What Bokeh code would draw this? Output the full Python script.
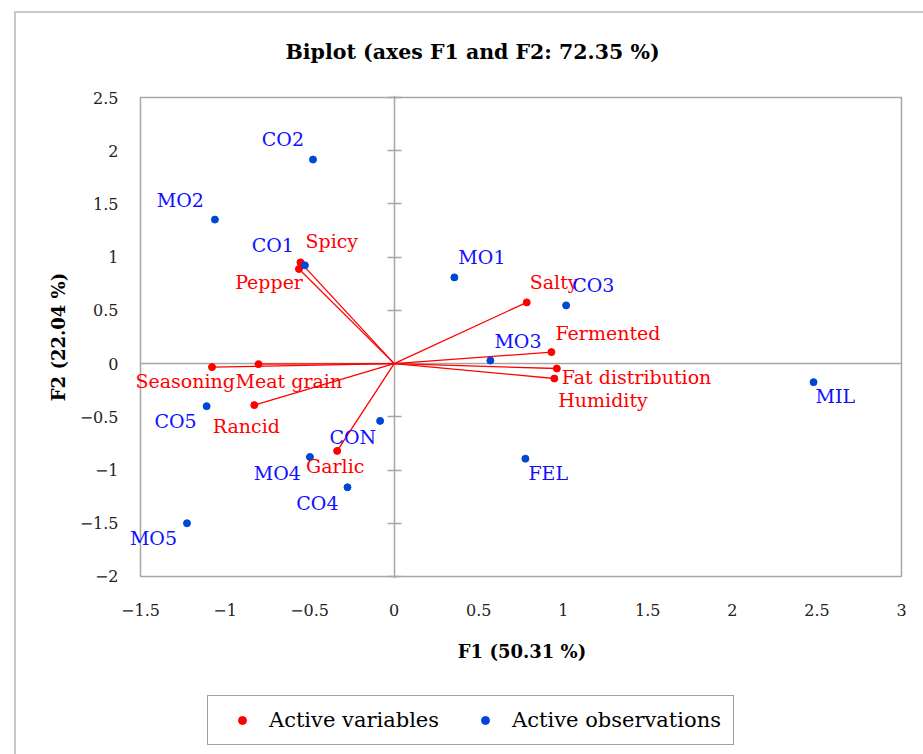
from bokeh.plotting import figure
from bokeh.layouts import column
from bokeh.models import (ColumnDataSource, LabelSet, LinearAxis, FixedTicker,
                          CustomJSTickFormatter, Legend, LegendItem, BoxAnnotation,
                          InlineStyleSheet)
from bokeh.core.properties import value
from bokeh.embed import file_html
from bokeh.resources import INLINE

# ---------------- data ----------------
var_names = ["Spicy", "Pepper", "Seasoning", "Meat grain", "Rancid", "Garlic",
             "Salty", "Fermented", "Fat distribution", "Humidity"]
var_f1 = [-0.554, -0.563, -1.077, -0.802, -0.827, -0.337, 0.784, 0.930, 0.962, 0.947]
var_f2 = [0.951, 0.889, -0.033, -0.005, -0.390, -0.820, 0.575, 0.108, -0.046, -0.140]

obs_names = ["CO1", "CO2", "CO3", "CO4", "CO5", "CON", "MO1", "MO2", "MO3",
             "MO4", "MO5", "MIL", "FEL"]
obs_f1 = [-0.528, -0.480, 1.017, -0.276, -1.109, -0.083, 0.356, -1.060, 0.569,
          -0.498, -1.225, 2.480, 0.776]
obs_f2 = [0.923, 1.917, 0.547, -1.162, -0.400, -0.538, 0.810, 1.353, 0.029,
          -0.877, -1.500, -0.174, -0.893]

x_ticks = [-1.5, -1, -0.5, 0, 0.5, 1, 1.5, 2, 2.5, 3]
y_ticks = [-2, -1.5, -1, -0.5, 0, 0.5, 1, 1.5, 2, 2.5]

title_text = "Biplot (axes F1 and F2: 72.35 %)"
x_title = "F1 (50.31 %)"
y_title = "F2 (22.04 %)"
legend_labels = ["Active variables", "Active observations"]

# ---------------- label placement (style) ----------------
var_align = ["left", "right", "right", "left", "center", "center",
             "left", "left", "left", "left"]
var_dx = [5, 4, 23, -23, -8, -2, 3, 4, 5, 4]
var_dy = [14, -20, -21, -24, -28, -22, 13, 12, -15, -28]

obs_align = ["right", "right", "left", "right", "right", "right", "left", "right",
             "left", "right", "right", "left", "left"]
obs_dx = [-11, -9, 6, -9, -10, -4, 4, -11, 4, -9, -10, 2, 3]
obs_dy = [13, 14, 13, -23, -22, -23.5, 13, 13, 13, -23, -22, -21, -21]

FONT = "DejaVu Serif"
RED = "#ff0000"
BLUE_PT = "#0047d6"
BLUE_TXT = "#1010ff"
GRAY = "#a6a6a6"
FRAME = "#c8c8c8"

# small extra room around the [-1.5, 3] x [-2, 2.5] box so labels are not clipped
PADL, PADR, PADY = 0.1005, 0.1124, 0.0188

p = figure(width=923, height=690,
           x_range=(x_ticks[0] - PADL, x_ticks[-1] + PADR),
           y_range=(y_ticks[0] - PADY, y_ticks[-1] + PADY),
           output_backend="svg", toolbar_location=None,
           min_border_left=123, min_border_right=3, min_border_top=95,
           min_border_bottom=112, x_axis_label=x_title, y_axis_label=y_title)

p.grid.visible = False
p.outline_line_color = None
p.background_fill_color = "white"
p.border_fill_color = "white"

# title
p.title.text = title_text
p.title.align = "left"
p.title.offset = 162
p.title.text_font = FONT
p.title.text_font_style = "bold"
p.title.text_font_size = "20.5px"
p.title.text_color = "black"
p.title.standoff = 64

fmt = CustomJSTickFormatter(code="return (tick < 0 ? '\u2212' : '') + Math.abs(tick).toString();")

for ax, ticks in ((p.xaxis[0], x_ticks), (p.yaxis[0], y_ticks)):
    ax.ticker = FixedTicker(ticks=ticks)
    ax.formatter = fmt
    ax.major_tick_in = 0
    ax.major_tick_out = 0
    ax.minor_tick_in = 0
    ax.minor_tick_out = 0
    ax.axis_line_color = None
    ax.major_label_text_font = FONT
    ax.major_label_text_font_size = "16px"
    ax.major_label_text_color = "#222222"
    ax.axis_label_text_font = FONT
    ax.axis_label_text_font_style = "bold"
    ax.axis_label_text_font_size = "18px"
    ax.axis_label_text_color = "black"
p.xaxis[0].major_label_standoff = 25
p.yaxis[0].major_label_standoff = 5
p.xaxis[0].axis_label_standoff = 22
p.yaxis[0].axis_label_standoff = 8

# plot box
p.add_layout(BoxAnnotation(left=x_ticks[0], right=x_ticks[-1], bottom=y_ticks[0],
                           top=y_ticks[-1], fill_alpha=0, line_color=GRAY,
                           line_alpha=1, line_width=1.5, level="underlay"))
# horizontal zero line
p.segment(x0=x_ticks[0], y0=0, x1=x_ticks[-1], y1=0, line_color=GRAY, line_width=1.5)
# vertical zero line with crossing ticks
zaxis = LinearAxis(fixed_location=0, ticker=FixedTicker(ticks=y_ticks),
                   major_tick_in=7, major_tick_out=7, minor_tick_in=0, minor_tick_out=0,
                   axis_line_color=GRAY, axis_line_width=1.5,
                   major_tick_line_color=GRAY, major_tick_line_width=1.5,
                   major_label_text_font_size="0px", major_label_text_color=None,
                   formatter=CustomJSTickFormatter(code="return '';"), level="underlay")
p.add_layout(zaxis, "left")

# data
vsrc = ColumnDataSource(dict(x=var_f1, y=var_f2, name=var_names, align=var_align,
                             dx=var_dx, dy=var_dy))
osrc = ColumnDataSource(dict(x=obs_f1, y=obs_f2, name=obs_names, align=obs_align,
                             dx=obs_dx, dy=obs_dy))

p.segment(x0=0, y0=0, x1="x", y1="y", source=vsrc, line_color=RED, line_width=1.3)
p.scatter("x", "y", source=vsrc, size=7, marker="circle",
          fill_color=RED, line_color=RED)
p.scatter("x", "y", source=osrc, size=7, marker="circle",
          fill_color=BLUE_PT, line_color=BLUE_PT)

for src, col in ((vsrc, RED), (osrc, BLUE_TXT)):
    p.add_layout(LabelSet(x="x", y="y", text="name", source=src,
                          x_offset="dx", y_offset="dy", text_align="align",
                          text_baseline="alphabetic", text_font=value(FONT),
                          text_font_size="19px", text_color=col))

css_top = (":host { position: relative; }"
           ":host::after { content: ''; position: absolute; left: 14px; top: 11px;"
           " right: 0; bottom: 0; border-left: 2px solid " + FRAME + ";"
           " border-top: 2px solid " + FRAME + "; pointer-events: none; }")
p.stylesheets = [InlineStyleSheet(css=css_top)]

# ---------------- legend strip ----------------
# ranges chosen so the plotted points themselves stay out of view; only the
# legend swatches of these renderers are shown
lg = figure(width=923, height=64, x_range=(10, 11), y_range=(10, 11),
            output_backend="svg", toolbar_location=None, min_border=0,
            x_axis_type=None, y_axis_type=None)
lg.grid.visible = False
lg.outline_line_color = None
lg.title.text = ""
lg.border_fill_color = "white"
r_var = lg.scatter("x", "y", source=vsrc, size=7, marker="circle",
                   fill_color=RED, line_color=RED)
r_obs = lg.scatter("x", "y", source=osrc, size=7, marker="circle",
                   fill_color=BLUE_PT, line_color=BLUE_PT)
legend = Legend(items=[LegendItem(label=legend_labels[0], renderers=[r_var]),
                       LegendItem(label=legend_labels[1], renderers=[r_obs])],
                orientation="horizontal", location=(84, 9),
                padding=12, margin=0, spacing=24, glyph_width=44, glyph_height=20,
                label_standoff=5, label_height=20,
                label_text_font=FONT, label_text_font_size="21px",
                label_text_color="black", border_line_color="#404040",
                border_line_width=1.5, background_fill_color="white",
                background_fill_alpha=1)
lg.add_layout(legend, "center")
css_bottom = (":host { position: relative; }"
              ":host::after { content: ''; position: absolute; left: 14px; top: 0;"
              " right: 0; bottom: 0; border-left: 2px solid " + FRAME + ";"
              " pointer-events: none; }")
lg.stylesheets = [InlineStyleSheet(css=css_bottom)]

layout = column(p, lg, spacing=0)
open("out.html", "w").write(file_html(layout, INLINE))
